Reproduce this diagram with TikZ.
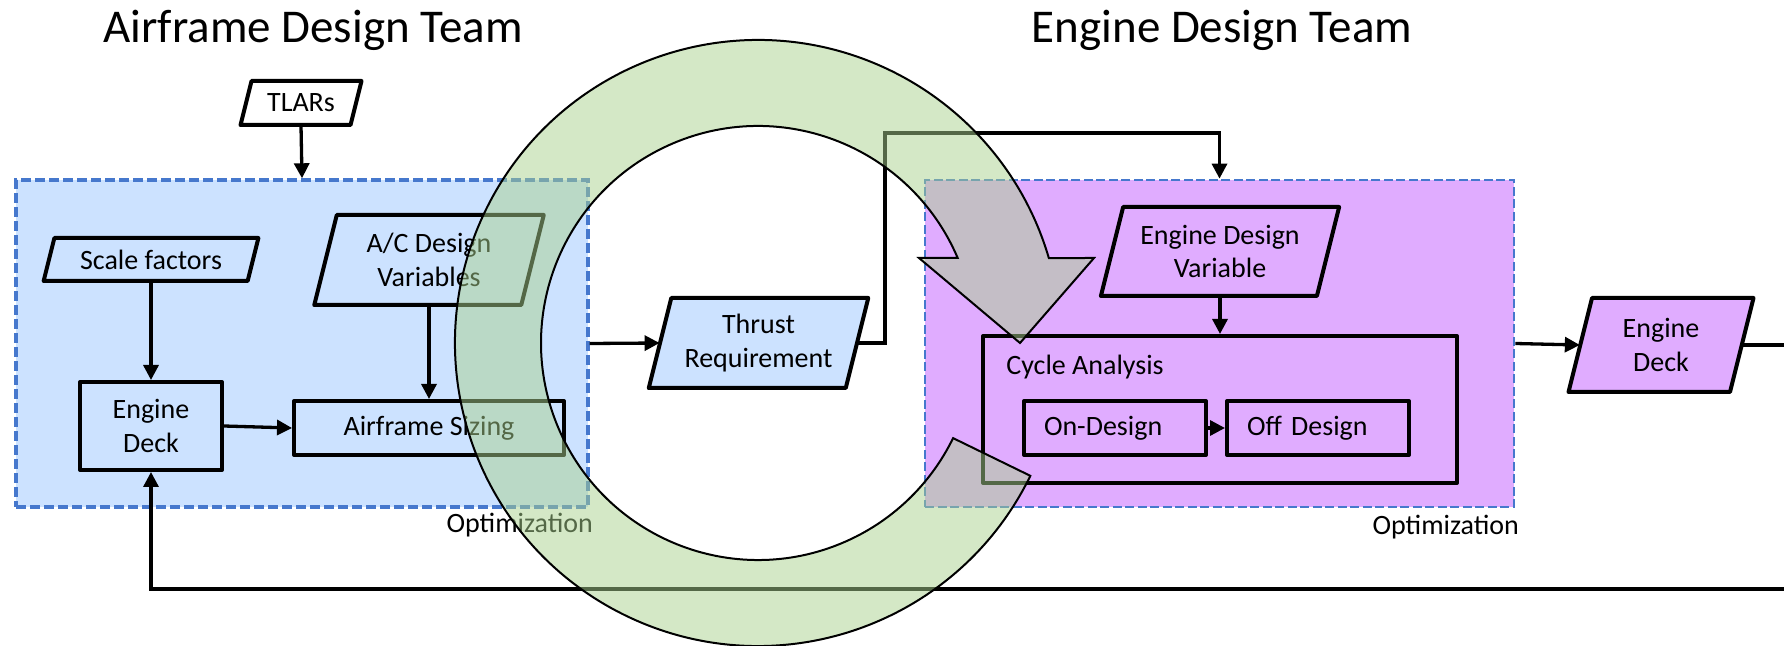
\documentclass[tikz,border=0pt]{standalone}
\usepackage{fontspec}
\setmainfont{Carlito}
\usetikzlibrary{arrows.meta}

\definecolor{afblue}{RGB}{204,226,255}
\definecolor{engviolet}{RGB}{224,172,255}
\definecolor{optdash}{RGB}{70,120,205}
\definecolor{loopgreen}{RGB}{169,209,142}

\tikzset{
  bodyfont/.style={font=\fontsize{14}{16.8}\selectfont},
  boxline/.style={draw=black, line width=2pt, line join=round},
  procbox/.style={boxline, rectangle, inner sep=0pt, align=center, bodyfont},
  paratext/.style={rectangle, inner sep=0pt, align=center, bodyfont},
  flow/.style={line width=1.65pt, -{Triangle[length=7.5pt,width=7.5pt]}},
  optregion/.style={rectangle, inner sep=0pt, draw=optdash},
  teamtitle/.style={anchor=base, font=\fontsize{23.5}{28}\selectfont},
  optlabel/.style={anchor=base east, bodyfont},
}

% slanted input/output box: name, fill, centre x, centre y, mid width, height, text (all in px units)
\newcommand{\iobox}[7]{%
  \filldraw[boxline, fill=#2]
    ({#3-#5/2+#6/8},{#4-#6/2}) -- ({#3+#5/2+#6/8},{#4-#6/2}) --
    ({#3+#5/2-#6/8},{#4+#6/2}) -- ({#3-#5/2-#6/8},{#4+#6/2}) -- cycle;
  \node[paratext, minimum width={#5*0.5pt}, minimum height={#6*0.5pt}] (#1) at (#3,#4) {#7};
}

\begin{document}
\begin{tikzpicture}[x=0.5pt, y=-0.5pt]
\useasboundingbox (0,0) rectangle (1784,646);
\clip (0,0) rectangle (1784,646);

% team titles
\node[teamtitle] (ttlA) at (313,43) {Airframe Design Team};
\node[teamtitle] (ttlB) at (1222,43) {Engine Design Team};

% optimization regions
\node[optregion, fill=afblue, line width=1.7pt, dash pattern=on 5pt off 2pt,
      minimum width=286pt, minimum height=163.5pt] (afopt) at (302,343.5) {};
\node[optregion, fill=engviolet, line width=1.35pt, dash pattern=on 4.5pt off 1.75pt,
      minimum width=294.5pt, minimum height=163.5pt] (enopt) at (1219.5,343.5) {};
\node[optlabel] (optA) at (600,533) {Optimization};
\node[optlabel] (optB) at (1526,535) {Optimization};

% airframe side
\iobox{tlars}{white}{301}{103}{110}{44}{TLARs}
\iobox{scf}{afblue}{151}{259.5}{204}{43}{Scale factors}
\iobox{acv}{afblue}{429}{260}{207}{90}{A/C Design\\Variables}
\node[procbox, fill=afblue, minimum width=71pt, minimum height=44pt] (ed1) at (151,426) {Engine\\Deck};
\node[procbox, fill=afblue, minimum width=135pt, minimum height=27pt] (afs) at (429,428) {Airframe Sizing};

% hand-over
\iobox{thr}{afblue}{758.5}{343}{197}{90}{Thrust\\Requirement}

% engine side
\iobox{edv}{engviolet}{1220}{251.5}{216}{89}{Engine Design\\Variable}
\node[procbox, fill=engviolet, minimum width=237pt, minimum height=73.5pt] (cyc) at (1220,409.5) {};
\node[anchor=west, bodyfont, inner sep=0pt] (cyct) at (1006,367) {Cycle Analysis};
\node[procbox, fill=engviolet, minimum width=91pt, minimum height=27pt,
      inner xsep=10pt, text width=71pt, align=left] (ond) at (1115,428) {On-Design};
\node[procbox, fill=engviolet, minimum width=91pt, minimum height=27pt,
      inner xsep=10pt, text width=71pt, align=left] (offd) at (1318,428) {Off Design};
\iobox{ed2}{engviolet}{1661}{345}{161.5}{94}{Engine\\Deck}

% connectors
\coordinate (bendA) at (885,133);
\coordinate (loopA) at (1800,345);
\coordinate (loopB) at (1800,589);
\draw[flow] (tlars.south) -- (afopt.north);
\draw[flow] (scf.south) -- (ed1.north);
\draw[flow] (acv.south) -- (afs.north);
\draw[flow] (ed1.east) -- (afs.west);
\draw[flow] (afopt.east) -- (thr.west);
\draw[flow] (thr.east) -| (bendA) -| (enopt.north);
\draw[flow] (edv.south) -- (cyc.north);
\draw[flow] (ond.east) -- (offd.west);
\draw[flow] (enopt.east) -- (ed2.west);
\draw[flow] (ed2.east) -- (loopA) -- (loopB) -| (ed1.south);

% iteration loop arrow
\filldraw[draw=black, line width=1pt, fill=loopgreen, fill opacity=0.5]
  (758,343) ++(26:303) arc[start angle=26, end angle=343.71, radius=303]
  -- (1094,258) -- (1020,343) -- (919,258) -- (957.7,258)
  arc[start angle=336.94, end angle=26, radius=217] -- cycle;
\end{tikzpicture}
\end{document}
